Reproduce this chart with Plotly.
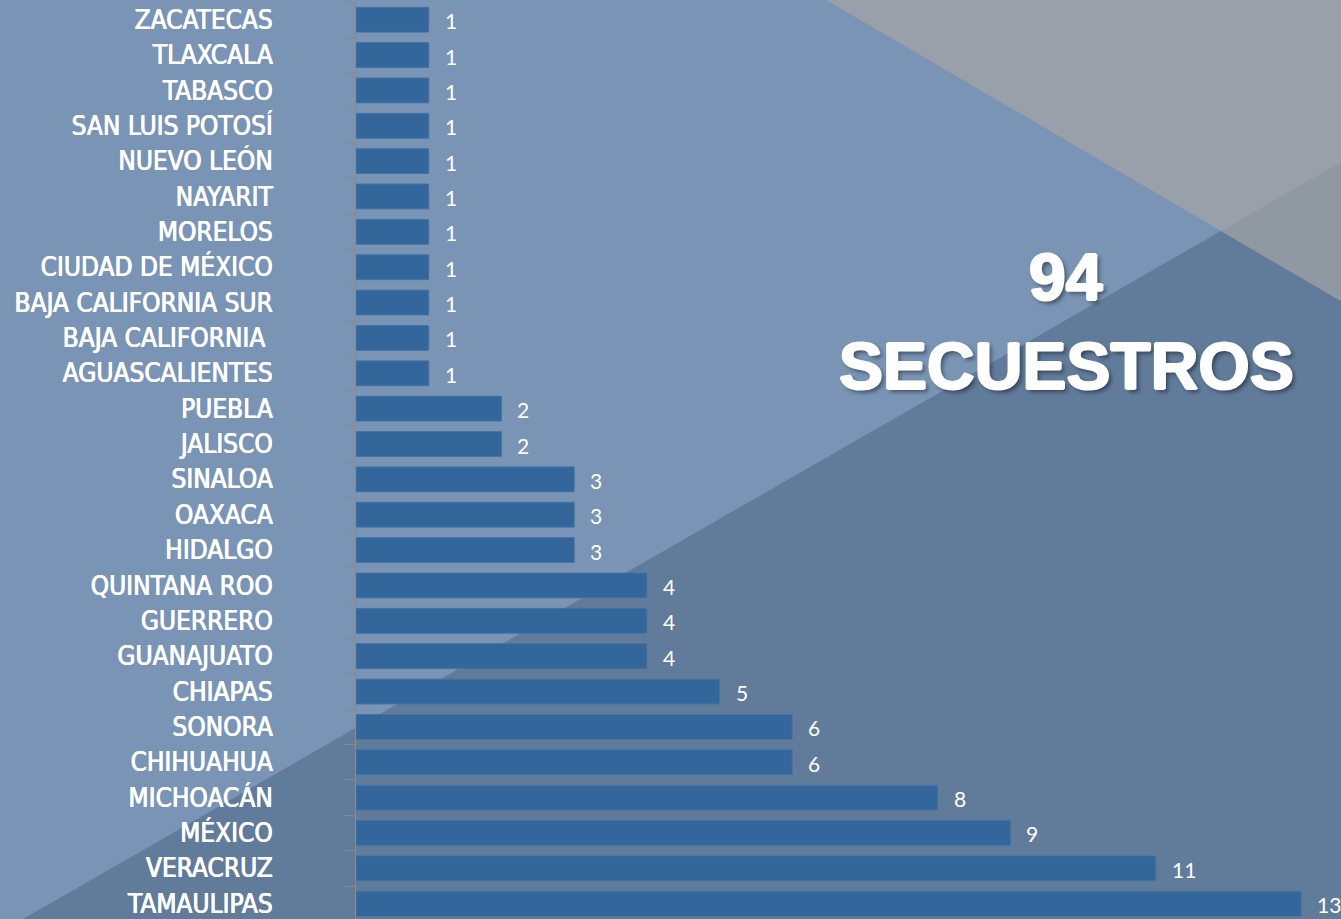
import plotly.graph_objects as go

# Data (top to bottom as displayed)
states = ["ZACATECAS", "TLAXCALA", "TABASCO", "SAN LUIS POTOSÍ", "NUEVO LEÓN", "NAYARIT",
          "MORELOS", "CIUDAD DE MÉXICO", "BAJA CALIFORNIA SUR", "BAJA CALIFORNIA ", "AGUASCALIENTES",
          "PUEBLA", "JALISCO", "SINALOA", "OAXACA", "HIDALGO", "QUINTANA ROO", "GUERRERO",
          "GUANAJUATO", "CHIAPAS", "SONORA", "CHIHUAHUA", "MICHOACÁN", "MÉXICO", "VERACRUZ",
          "TAMAULIPAS"]
values = [1, 1, 1, 1, 1, 1, 1, 1, 1, 1, 1, 2, 2, 3, 3, 3, 4, 4, 4, 5, 6, 6, 8, 9, 11, 13]
total_text = "94"
title_text = "SECUESTROS"

W, H = 1341, 919
L, T, B, R = 356, 2, 0, 0
PW, PH = W - L - R, H - T - B

def px(x):
    return (x - L) / PW

def py(y):
    return (H - B - y) / PH

def poly(points):
    return "M " + " L ".join(f"{px(x):.5f},{py(y):.5f}" for x, y in points) + " Z"

cats = states[::-1]
vals = values[::-1]

fig = go.Figure()
fig.add_trace(go.Bar(
    x=vals, y=cats, orientation="h",
    marker=dict(color="#33669A", line=dict(color="#4472A3", width=1)),
    width=0.7, hoverinfo="skip", showlegend=False,
))

annotations = []
for c, v in zip(cats, vals):
    annotations.append(dict(x=v, y=c, xref="x", yref="y", text=str(v), showarrow=False,
                            xanchor="left", xshift=14, yshift=-1,
                            font=dict(family="Lato, Open Sans, sans-serif", size=21, color="white")))

shadow = ("1.2px 0 0 white, -1.2px 0 0 white, 0 1px 0 white, 0 -1px 0 white, "
          "3px 3px 4px rgba(0,0,0,0.45)")
for txt, yy in [(total_text, 277), (title_text, 366)]:
    annotations.append(dict(x=px(1066), y=py(yy), xref="paper", yref="paper", text=txt,
                            showarrow=False, xanchor="center", yanchor="middle",
                            font=dict(family="Liberation Sans, Arial, sans-serif", size=66,
                                      weight="bold", color="white", shadow=shadow)))

shapes = [
    dict(type="path", xref="paper", yref="paper", layer="below", line=dict(width=0),
         fillcolor="#617B9B", path=poly([(23, 919), (1341, 162), (1341, 919)])),
    dict(type="path", xref="paper", yref="paper", layer="below", line=dict(width=0),
         fillcolor="#99A0A9", path=poly([(826, 0), (1341, 0), (1341, 301)])),
    dict(type="path", xref="paper", yref="paper", layer="below", line=dict(width=0),
         fillcolor="#9098A2", path=poly([(1221, 231), (1341, 162), (1341, 301)])),
]

fig.update_layout(
    width=W, height=H,
    margin=dict(l=L, r=R, t=T, b=B, pad=0),
    paper_bgcolor="#7994B5",
    plot_bgcolor="rgba(0,0,0,0)",
    shapes=shapes,
    annotations=annotations,
    xaxis=dict(range=[0, PW / 72.7], visible=False, fixedrange=True),
    yaxis=dict(type="category", categoryorder="array", categoryarray=cats,
               range=[25.5 - PH / 35.36, 25.5],
               showline=True, linecolor="#8A8A8A", linewidth=1,
               ticks="outside", tickson="boundaries", ticklen=10, tickcolor="#8A8A8A",
               ticklabelstandoff=77, showgrid=False, zeroline=False, fixedrange=True,
               tickfont=dict(family="Liberation Sans Narrow, DejaVu Sans Condensed, sans-serif",
                             size=26, color="white", shadow="0.4px 0 0 white, -0.4px 0 0 white")),
    bargap=0.3,
)

fig.write_html("out.html", config={"displayModeBar": False},
               post_script="document.body.style.margin='0';document.body.style.overflow='hidden';")
